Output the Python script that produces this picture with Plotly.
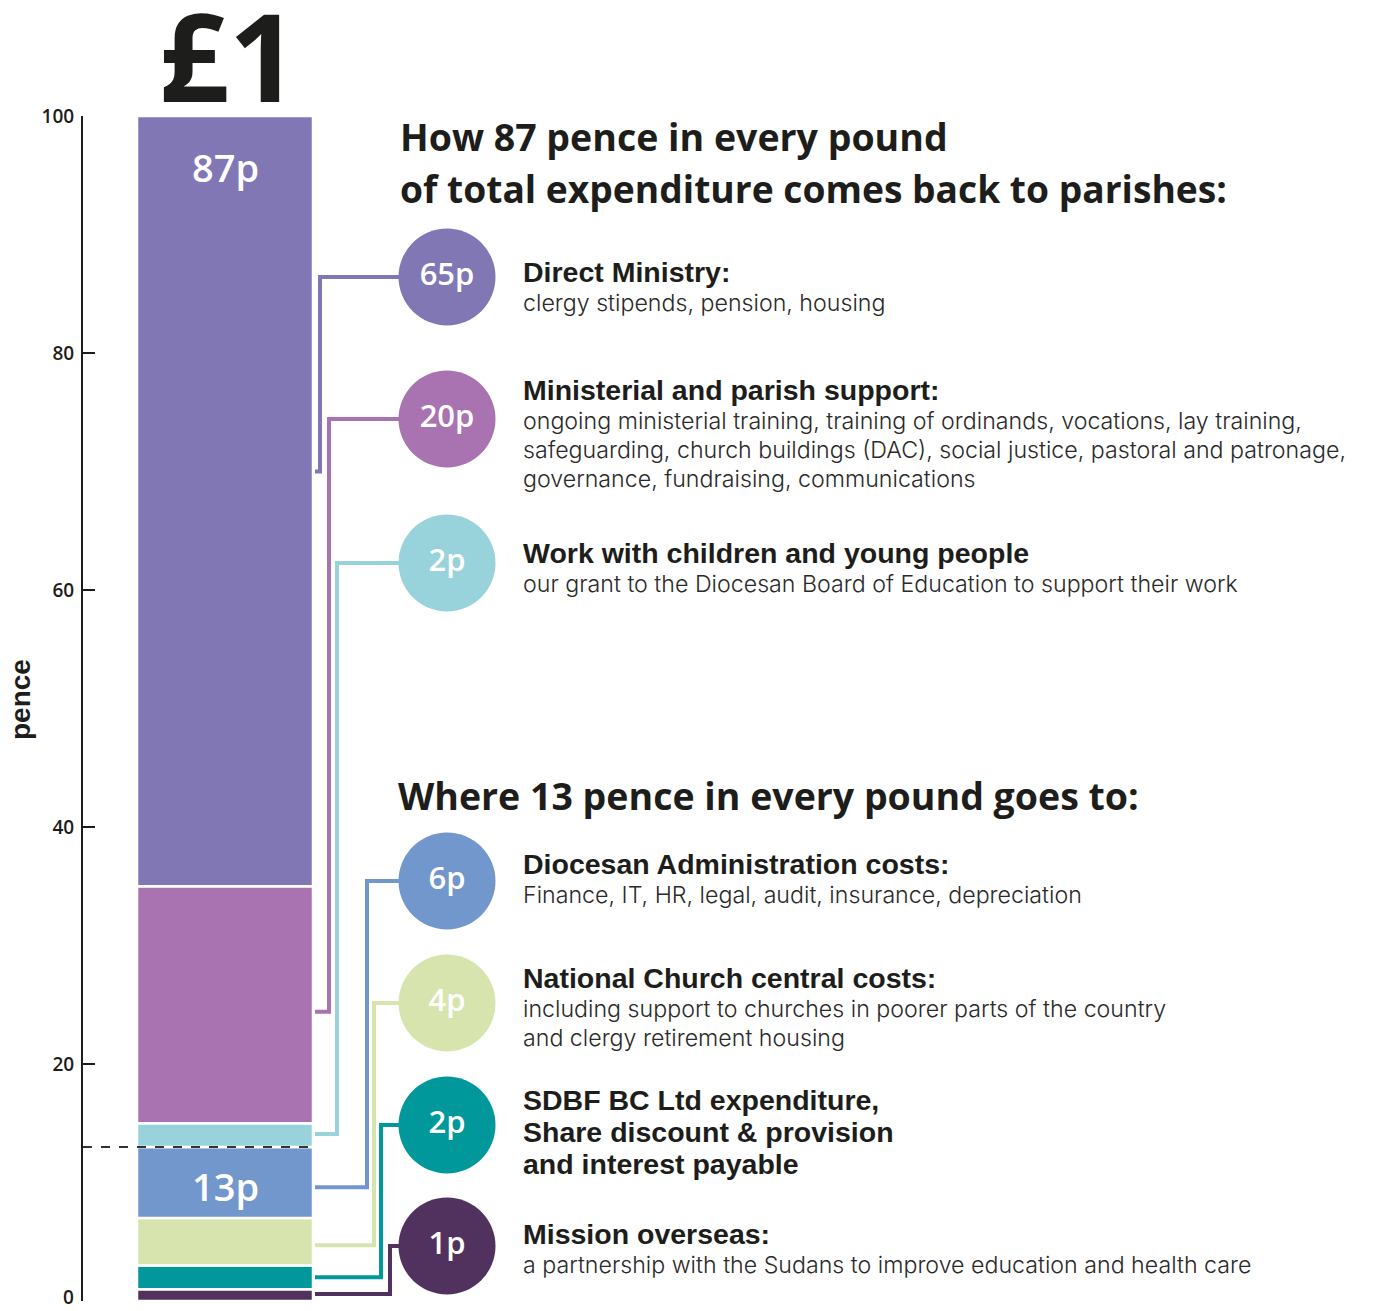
import plotly.graph_objects as go

# ---------------- data ----------------
categories = [
    "Direct Ministry",
    "Ministerial and parish support",
    "Work with children and young people",
    "Diocesan Administration costs",
    "National Church central costs",
    "SDBF BC Ltd expenditure",
    "Mission overseas",
]
pence = [65, 20, 2, 6, 4, 2, 1]
circle_labels = ["65p", "20p", "2p", "6p", "4p", "2p", "1p"]
colors = ["#8277B5", "#A972B0", "#98D3DC", "#7297CD", "#D8E4AE", "#00989A", "#51325F"]
# value on the pence axis where each connector leaves the bar
anchor_pence = [70.0, 24.4, 14.1, 9.6, 4.7, 2.0, 0.6]
split_pence = 13  # parishes vs. elsewhere
tick_vals = [0, 20, 40, 60, 80, 100]
tick_labels = ["0", "20", "40", "60", "80", "100"]

titles = [
    ["Direct Ministry:"],
    ["Ministerial and parish support:"],
    ["Work with children and young people"],
    ["Diocesan Administration costs:"],
    ["National Church central costs:"],
    ["SDBF BC Ltd expenditure,", "Share discount & provision", "and interest payable"],
    ["Mission overseas:"],
]
descriptions = [
    ["clergy stipends, pension, housing"],
    ["ongoing ministerial training, training of ordinands, vocations, lay training,",
     "safeguarding, church buildings (DAC), social justice, pastoral and patronage,",
     "governance, fundraising, communications"],
    ["our grant to the Diocesan Board of Education to support their work"],
    ["Finance, IT, HR, legal, audit, insurance, depreciation"],
    ["including support to churches in poorer parts of the country",
     "and clergy retirement housing"],
    [],
    ["a partnership with the Sudans to improve education and health care"],
]
heading1 = ["How 87 pence in every pound", "of total expenditure comes back to parishes:"]
heading2 = "Where 13 pence in every pound goes to:"

# ---------------- layout geometry (pixels) ----------------
W, H = 1384, 1311
ML, MT, MB = 83, 116, 10
PLOT_H = H - MT - MB
BAR_CX, BAR_W = 225, 176
LINE_X0 = 315
CIRCLE_X = 447
circle_py = [277, 419, 563, 881, 1003, 1125, 1246]
vert_x = [320, 329, 337, 367, 374, 381, 390]
TEXT_X = 521


def v_of(py):
    return (H - MB - py) / PLOT_H * 100


def px_paper(x):
    return (x - ML) / (W - ML)


def py_paper(y):
    return (H - MB - y) / PLOT_H


fig = go.Figure()

# stacked bar segments (bottom up)
base = 0
bases = [0] * len(pence)
for i in reversed(range(len(pence))):
    bases[i] = base
    base += pence[i]

for i in reversed(range(len(pence))):
    fig.add_trace(go.Bar(
        x=[BAR_CX], y=[pence[i]], base=[bases[i]], width=BAR_W,
        marker=dict(color=colors[i], line=dict(color="white", width=2.5)),
        hoverinfo="skip", showlegend=False,
    ))

# dashed split line
fig.add_trace(go.Scatter(
    x=[ML, BAR_CX + BAR_W / 2], y=[split_pence, split_pence], mode="lines",
    line=dict(color="#333333", width=2, dash="dash"), hoverinfo="skip", showlegend=False,
))

# connectors
for i in range(len(pence)):
    cy = v_of(circle_py[i])
    fig.add_trace(go.Scatter(
        x=[LINE_X0, vert_x[i], vert_x[i], CIRCLE_X],
        y=[anchor_pence[i], anchor_pence[i], cy, cy],
        mode="lines", line=dict(color=colors[i], width=4),
        hoverinfo="skip", showlegend=False,
    ))

# circles
fig.add_trace(go.Scatter(
    x=[CIRCLE_X] * len(pence), y=[v_of(p) for p in circle_py],
    mode="markers+text", text=circle_labels, textposition="middle center",
    textfont=dict(family="Open Sans", size=31, color="white", weight=600),
    marker=dict(size=97, color=colors, line=dict(width=0)),
    hoverinfo="skip", showlegend=False, cliponaxis=False,
))

annotations = []


def add_text(x, y, text, size, color="#1d1d1b", family="Liberation Sans", weight=400, **kw):
    annotations.append(dict(
        x=px_paper(x), y=py_paper(y), xref="paper", yref="paper", text=text,
        showarrow=False, xanchor=kw.get("xanchor", "left"), yanchor="middle",
        font=dict(family=family, size=size, color=color, weight=weight),
        textangle=kw.get("textangle", 0),
    ))


# big £1
add_text(229, 55, "£1", 122, family="Open Sans", weight=700, xanchor="center")
# in-bar labels
add_text(BAR_CX, 167, "87p", 38, color="white", family="Open Sans", weight=600, xanchor="center")
add_text(BAR_CX, 1186, "13p", 38, color="white", family="Open Sans", weight=600, xanchor="center")
# y title
add_text(20, 699, "pence", 28, weight=700, xanchor="center", textangle=-90)
# zero tick label (axis hides it at the page edge)
add_text(76, 1297, tick_labels[0], 19, family="Open Sans", weight=600, xanchor="right")

# headings
add_text(398, 136, heading1[0], 37.5, family="Open Sans", weight=700)
add_text(398, 188, heading1[1], 37.2, family="Open Sans", weight=700)
add_text(396, 795, heading2, 37.5, family="Open Sans", weight=700)

title_py = [272, 390, 553, 864, 978, 1100, 1234]
for i in range(len(pence)):
    y = title_py[i]
    for j, line in enumerate(titles[i]):
        add_text(TEXT_X, y + 32 * j, line, 28.5, weight=700)
    y0 = y + 32 * (len(titles[i]) - 1) + 31
    for j, line in enumerate(descriptions[i]):
        add_text(TEXT_X, y0 + 29 * j, line, 23.2, color="#2a2a2a", family="Inter", weight=300)

fig.update_layout(
    width=W, height=H, margin=dict(l=ML, r=0, t=MT, b=MB),
    plot_bgcolor="white", paper_bgcolor="white", barmode="overlay",
    annotations=annotations, showlegend=False,
    xaxis=dict(range=[ML, W], visible=False, fixedrange=True),
    yaxis=dict(range=[0, 100], tickvals=tick_vals, ticktext=tick_labels,
               showgrid=False, zeroline=False,
               showline=True, linecolor="#1d1d1b", linewidth=2,
               ticks="inside", ticklen=12, tickwidth=2, tickcolor="#1d1d1b",
               ticklabelstandoff=3,
               tickfont=dict(family="Open Sans", size=19, color="#1d1d1b", weight=600),
               fixedrange=True),
)

fig.write_html("out.html", config={"displayModeBar": False},
               post_script="document.body.style.margin='0px';")
